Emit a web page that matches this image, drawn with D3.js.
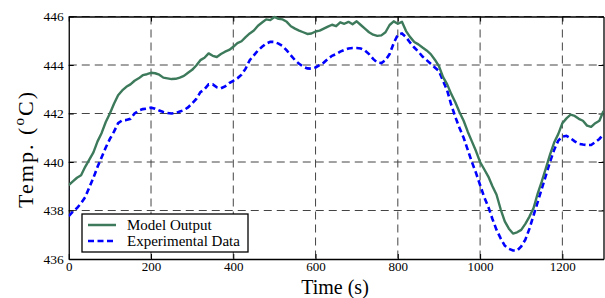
<!DOCTYPE html>
<html><head><meta charset="utf-8">
<script src="https://cdn.jsdelivr.net/npm/d3@7"></script>
<style>html,body{margin:0;padding:0;background:#fff;}svg{display:block;}svg text{font-family:"Liberation Serif","Times New Roman",serif;}</style>
</head><body>
<script>
const xTicks = [0,200,400,600,800,1000,1200];
const yTicks = [436,438,440,442,444,446];
const seriesNames = ["Model Output","Experimental Data"];
const modelTime = [0,10,20,30,40,50,60,70,80,90,100,110,120,130,140,150,160,170,180,190,200,210,220,230,240,250,260,270,280,290,300,310,320,330,340,350,360,370,380,390,400,410,420,430,440,450,460,470,480,490,500,510,520,530,540,550,560,570,580,590,600,610,620,630,640,650,660,670,680,690,700,710,720,730,740,750,760,770,780,790,800,810,820,830,840,850,860,870,880,890,900,910,920,930,940,950,960,970,980,990,1000,1010,1020,1030,1040,1050,1060,1070,1080,1090,1100,1110,1120,1130,1140,1150,1160,1170,1180,1190,1200,1210,1220,1230,1240,1250,1260,1270,1280,1290,1300];
const modelTemp = [439.05,439.2,439.35,439.45,439.8,440.1,440.4,440.85,441.2,441.65,442.0,442.4,442.75,442.95,443.1,443.2,443.35,443.45,443.58,443.62,443.68,443.66,443.6,443.48,443.45,443.42,443.43,443.48,443.55,443.68,443.8,443.98,444.2,444.3,444.48,444.38,444.33,444.45,444.55,444.62,444.75,444.9,444.98,445.15,445.3,445.42,445.62,445.75,445.88,445.85,445.98,445.9,445.88,445.78,445.6,445.5,445.42,445.35,445.28,445.3,445.38,445.42,445.5,445.58,445.66,445.6,445.76,445.7,445.78,445.68,445.8,445.65,445.5,445.35,445.25,445.2,445.22,445.35,445.65,445.8,445.7,445.78,445.4,445.15,444.95,444.85,444.72,444.6,444.45,444.22,443.95,443.5,443.2,442.8,442.45,442.05,441.7,441.25,440.85,440.45,440.0,439.7,439.4,439.0,438.65,438.05,437.55,437.25,437.05,437.1,437.2,437.45,437.75,438.1,438.7,439.2,439.75,440.3,440.8,441.15,441.6,441.8,441.95,441.9,441.78,441.7,441.5,441.45,441.6,441.7,442.1];
const expTime = [0,10,20,30,40,50,60,70,80,90,100,110,120,130,140,150,160,170,180,190,200,210,220,230,240,250,260,270,280,290,300,310,320,330,340,350,360,370,380,390,400,410,420,430,440,450,460,470,480,490,500,510,520,530,540,550,560,570,580,590,600,610,620,630,640,650,660,670,680,690,700,710,720,730,740,750,760,770,780,790,800,810,820,830,840,850,860,870,880,890,900,910,920,930,940,950,960,970,980,990,1000,1010,1020,1030,1040,1050,1060,1070,1080,1090,1100,1110,1120,1130,1140,1150,1160,1170,1180,1190,1200,1210,1220,1230,1240,1250,1260,1270,1280,1290,1300];
const expTemp = [437.77,437.95,438.1,438.3,438.55,438.95,439.35,439.8,440.2,440.6,440.95,441.25,441.6,441.72,441.73,441.78,442.0,442.12,442.18,442.2,442.24,442.2,442.12,442.06,442.02,442.0,442.02,442.08,442.14,442.25,442.42,442.6,442.88,443.0,443.2,443.2,443.08,443.04,443.12,443.25,443.35,443.45,443.6,443.85,444.2,444.4,444.6,444.75,444.88,444.96,444.95,444.88,444.78,444.6,444.4,444.2,444.05,443.93,443.86,443.85,443.9,444.0,444.1,444.25,444.38,444.45,444.55,444.62,444.68,444.7,444.7,444.68,444.6,444.45,444.25,444.1,444.08,444.2,444.45,444.9,445.25,445.3,445.15,444.92,444.72,444.55,444.35,444.2,444.05,443.9,443.75,443.35,442.95,442.35,441.85,441.4,441.0,440.5,440.0,439.55,439.05,438.55,438.15,437.65,437.2,436.85,436.55,436.42,436.35,436.35,436.52,436.8,437.25,437.8,438.35,438.9,439.45,440.0,440.5,440.88,441.05,441.08,440.98,440.85,440.75,440.72,440.7,440.7,440.82,440.95,441.15];

const W = 605, H = 298;
const L = 68.75, R = 603.5, T = 16.5, B = 259;
const green = "#3d7a5b", blue = "#0000ff";
const serif = "'Times New Roman','Liberation Serif',serif";

const svg = d3.select("body").append("svg").attr("width", W).attr("height", H);
const x = d3.scaleLinear().domain([0,1300]).range([L,R]);
const y = d3.scaleLinear().domain([436,446]).range([B,T]);

// grid
const grid = svg.append("g").attr("stroke","#444").attr("stroke-width",1).attr("stroke-dasharray","8,5").attr("fill","none");
xTicks.filter(d => d>0).forEach(d => grid.append("line").attr("x1",x(d)).attr("x2",x(d)).attr("y1",T).attr("y2",B));
yTicks.filter(d => d>436).forEach(d => grid.append("line").attr("x1",L).attr("x2",R).attr("y1",y(d)).attr("y2",y(d)));

// axes (MATLAB style inward ticks)
const fmt = d3.format("d");
const ax = svg.append("g");
const xa = ax.append("g").attr("transform",`translate(0,${B})`)
  .call(d3.axisBottom(x).tickValues(xTicks).tickFormat(fmt).tickSizeInner(-5).tickSizeOuter(0).tickPadding(3));
const xa2 = ax.append("g").attr("transform",`translate(0,${T})`)
  .call(d3.axisTop(x).tickValues(xTicks).tickSizeInner(-5).tickSizeOuter(0).tickFormat(""));
const ya = ax.append("g").attr("transform",`translate(${L},0)`)
  .call(d3.axisLeft(y).tickValues(yTicks).tickFormat(fmt).tickSizeInner(-5).tickSizeOuter(0).tickPadding(5));
const ya2 = ax.append("g").attr("transform",`translate(${R},0)`)
  .call(d3.axisRight(y).tickValues(yTicks).tickSizeInner(-5).tickSizeOuter(0).tickFormat(""));
[xa,xa2,ya,ya2].forEach(g => {
  g.attr("font-family", serif);
  g.select(".domain").attr("stroke","#000").attr("stroke-width",1.3);
  g.selectAll(".tick line").attr("stroke","#000");
  g.selectAll("text").attr("font-size","13.5px").attr("fill","#000").style("font-family", serif);
});
xa.selectAll("text").attr("font-size","13px");

// lines
const line = d3.line().x(d => x(d[0])).y(d => y(d[1]));
svg.append("clipPath").attr("id","c").append("rect").attr("x",L).attr("y",T-3).attr("width",R-L).attr("height",B-T+3);
svg.append("path").datum(expTime.map((t,i)=>[t,expTemp[i]]))
  .attr("d",line).attr("fill","none").attr("stroke",blue).attr("stroke-width",2.6).attr("stroke-dasharray","6,3.5").attr("clip-path","url(#c)");
svg.append("path").datum(modelTime.map((t,i)=>[t,modelTemp[i]]))
  .attr("d",line).attr("fill","none").attr("stroke",green).attr("stroke-width",2.4).attr("stroke-linejoin","round").attr("clip-path","url(#c)");

// legend
const lg = svg.append("g");
lg.append("rect").attr("x",82).attr("y",214).attr("width",166).attr("height",38).attr("fill","#fff").attr("stroke","#000").attr("stroke-width",1.3);
const rows = [{c:green,dash:null,y:225},{c:blue,dash:"6,3.5",y:241}];
rows.forEach((r,i) => {
  lg.append("line").attr("x1",88).attr("x2",116).attr("y1",r.y).attr("y2",r.y).attr("stroke",r.c).attr("stroke-width",2.5).attr("stroke-dasharray",r.dash);
  lg.append("text").attr("x",127).attr("y",r.y+4.8).style("font-family",serif).attr("font-size","15px").text(seriesNames[i]);
});

// axis titles
svg.append("text").attr("x",335).attr("y",293.5).attr("text-anchor","middle").style("font-family",serif).attr("font-size","20px").text("Time (s)");
const yl = svg.append("text").attr("transform","translate(33,150) rotate(-90)").attr("text-anchor","middle").style("font-family",serif).attr("font-size","22px")
  .attr("textLength",116).attr("lengthAdjust","spacing");
yl.append("tspan").text("Temp. (");
yl.append("tspan").attr("font-size","15px").attr("dy","-9").text("o");
yl.append("tspan").attr("dy","9").text("C)");
</script>
</body></html>
